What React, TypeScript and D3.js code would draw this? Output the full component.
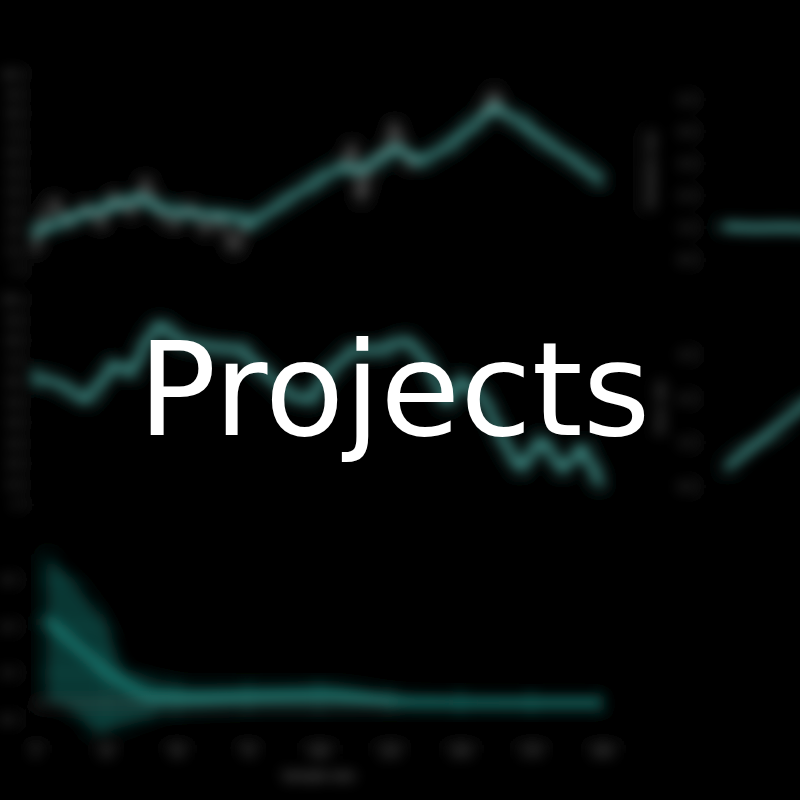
import { useEffect, useRef } from 'react';
import * as d3 from 'd3';

const W = 800;
const H = 800;

// shared x axis for the three left panels
const stepLabels = [0, 25, 50, 75, 100, 125, 150, 175, 200];

// top-left: smoothed trend + raw samples (null = gap)
const trendX = [0, 9, 19, 28, 37, 46, 55, 64, 72, 76, 86, 97, 108, 115, 122, 127, 136, 146, 155, 162, 171, 182, 191, 199];
const trendY = [19.5, 24.6, 29.7, 33.3, 36.9, 30.8, 29.2, 28.2, 26.7, 23.6, 33.3, 43.6, 52.8, 51.3, 57.4, 62.6, 55.4, 64.1, 74.4, 83.6, 75.9, 64.1, 55.4, 46.2];
const rawX = [0, 4, 7, 12, 18, 23, 28, 34, 39, 44, 49, 55, 60, 65, 70, 74, 90, 108, 112, 115, 119, 124, 127, 132, 136, 143, 150, 157, 162, 166];
const rawY = [10.3, 28.2, 35.9, 23.1, 33.3, 23.1, 38.5, 28.2, 46.2, 28.2, 23.1, 33.3, 19.5, 28.2, 10.3, 23.1, null, 52.8, 64.1, 35.9, 56.4, 61.5, 74.4, 53.8, 56.4, 61.5, 69.2, 77.9, 91.3, 77.9];

// middle-left: noisy series
const noiseX = [0, 8, 18, 28, 34, 40, 44, 51, 61, 73, 81, 90, 97, 104, 112, 122, 131, 138, 145, 150, 158, 166, 171, 179, 186, 193, 199];
const noiseY = [62.4, 59.5, 51.2, 68.3, 64.4, 81.5, 87.8, 80.5, 77.1, 75.6, 64.9, 53.7, 51.2, 64.9, 75.6, 75.6, 80.5, 70.7, 49.8, 61.0, 52.7, 29.3, 18.0, 31.7, 17.1, 27.8, 11.2];

// bottom: convergence with band
const convX = [4, 15, 22, 24, 32, 38, 41, 44, 58, 80, 103, 132, 164, 199];
const convMean = [2.13, 1.55, 1.2, 1.06, 0.74, 0.55, 0.48, 0.5, 0.48, 0.53, 0.57, 0.38, 0.36, 0.36];
const convHi = [3.56, 2.84, 2.3, 2.13, 1.06, 0.9, 0.85, 0.8, 0.68, 0.68, 0.7, 0.5, 0.46, 0.46];
const convLo = [0.42, 0.1, -0.29, -0.25, -0.12, -0.01, 0.05, 0.15, 0.21, 0.25, 0.25, 0.26, 0.26, 0.26];
const convRef = 0.35;
const convTicks = [0, 1, 2, 3];

// right-hand panels (mostly off the page)
const sideAX = [0, 1, 2, 3, 4, 5];
const sideAY = [1.05, 1.0, 1.02, 0.98, 1.0, 1.01];
const sideATicks = [0, 1, 2, 3, 4, 5];
const sideBX = [0, 1, 2, 3, 4];
const sideBY = [0.45, 0.9, 1.36, 1.81, 2.2];
const sideBTicks = [0, 1, 2, 3];

const TEAL = '#5cc9c0';
const LABEL = '#a0a0a0';
const GRID = '#151515';
const FONT = 'DejaVu Sans, sans-serif';

type Pt = { x: number; y: number | null };
const zip = (xs: number[], ys: (number | null)[]): Pt[] => xs.map((x, i) => ({ x, y: ys[i] }));

export default function App() {
  const svgRef = useRef<SVGSVGElement>(null);

  useEffect(() => {
    if (!svgRef.current) return;
    const svg = d3.select(svgRef.current);
    svg.selectAll('*').remove();

    svg.append('rect').attr('width', W).attr('height', H).attr('fill', '#000');

    svg.append('defs')
      .append('filter')
      .attr('id', 'soft')
      .attr('filterUnits', 'userSpaceOnUse')
      .attr('x', -50).attr('y', -50)
      .attr('width', W + 100).attr('height', H + 100)
      .append('feGaussianBlur')
      .attr('stdDeviation', 7);

    const g = svg.append('g').attr('filter', 'url(#soft)');

    const xLeft = d3.scaleLinear().domain([0, 200]).range([35, 602]);

    const frame = (x0: number, x1: number, y0: number, y1: number) => {
      g.append('rect')
        .attr('x', x0).attr('y', y0)
        .attr('width', x1 - x0).attr('height', y1 - y0)
        .attr('fill', 'none')
        .attr('stroke', '#191919')
        .attr('stroke-width', 1.5);
    };

    const vGrid = (xs: number[], y0: number, y1: number) => {
      g.selectAll(null).data(xs).enter().append('line')
        .attr('x1', d => d).attr('x2', d => d)
        .attr('y1', y0).attr('y2', y1)
        .attr('stroke', GRID).attr('stroke-width', 1.5);
    };

    const hGrid = (ys: number[], x0: number, x1: number) => {
      g.selectAll(null).data(ys).enter().append('line')
        .attr('x1', x0).attr('x2', x1)
        .attr('y1', d => d).attr('y2', d => d)
        .attr('stroke', GRID).attr('stroke-width', 1.5);
    };

    const yLabels = (scale: d3.ScaleLinear<number, number>, ticks: number[], x: number) => {
      const ax = g.append('g')
        .attr('transform', `translate(${x},0)`)
        .call(d3.axisLeft(scale).tickValues(ticks).tickSize(0).tickPadding(0));
      ax.select('.domain').remove();
      ax.selectAll('text')
        .style('font-family', FONT)
        .style('font-size', '9px')
        .style('fill', LABEL);
    };

    const vTitle = (text: string, x: number, y: number) => {
      g.append('text')
        .attr('transform', `translate(${x},${y}) rotate(-90)`)
        .attr('text-anchor', 'middle')
        .attr('dy', '0.35em')
        .style('font-family', FONT)
        .style('font-size', '11px')
        .style('fill', LABEL)
        .text(text);
    };

    const drawLine = (
      data: Pt[],
      x: d3.ScaleLinear<number, number>,
      y: d3.ScaleLinear<number, number>,
      color: string,
      width: number,
    ) => {
      const line = d3.line<Pt>()
        .defined(d => d.y !== null)
        .x(d => x(d.x))
        .y(d => y(d.y as number));
      g.append('path')
        .datum(data)
        .attr('fill', 'none')
        .attr('stroke', color)
        .attr('stroke-width', width)
        .attr('stroke-linejoin', 'round')
        .attr('stroke-linecap', 'round')
        .attr('d', line);
    };

    // Top-left panel
    const y1 = d3.scaleLinear().domain([0, 100]).range([270, 75]);
    frame(30, 630, 68, 275);
    vGrid(stepLabels.map(d => xLeft(d)), 68, 275);
    hGrid(y1.ticks(8).map(d => y1(d)), 30, 630);
    yLabels(y1, y1.ticks(8), 19);
    drawLine(zip(rawX, rawY), xLeft, y1, '#8c8c8c', 3);
    drawLine(zip(trendX, trendY), xLeft, y1, TEAL, 6);

    // Middle-left panel
    const y3 = d3.scaleLinear().domain([0, 100]).range([505, 300]);
    frame(30, 630, 298, 507);
    vGrid(stepLabels.map(d => xLeft(d)), 298, 507);
    hGrid(y3.ticks(8).map(d => y3(d)), 30, 630);
    yLabels(y3, y3.ticks(8), 19);
    drawLine(zip(noiseX, noiseY), xLeft, y3, TEAL, 6);

    // Bottom panel
    const y5 = d3.scaleLinear().domain([-0.5, 3.75]).range([743, 544.3]);
    frame(30, 630, 540, 742);
    vGrid(stepLabels.map(d => xLeft(d)), 540, 742);
    hGrid(convTicks.map(d => y5(d)), 30, 630);
    yLabels(y5, convTicks, 15);

    const band = d3.area<number>()
      .x((_, i) => xLeft(convX[i]))
      .y0((_, i) => y5(convLo[i]))
      .y1((_, i) => y5(convHi[i]))
      .curve(d3.curveMonotoneX);
    g.append('path')
      .datum(convX)
      .attr('fill', '#1fb5a9')
      .attr('fill-opacity', 0.3)
      .attr('d', band);

    g.append('line')
      .attr('x1', xLeft(0)).attr('x2', xLeft(200))
      .attr('y1', y5(convRef)).attr('y2', y5(convRef))
      .attr('stroke', '#5a5a5a')
      .attr('stroke-width', 2);

    drawLine(zip(convX, convMean), xLeft, y5, '#249c92', 6);

    const xAxis = g.append('g')
      .attr('transform', 'translate(0,742)')
      .call(d3.axisBottom(xLeft).tickValues(stepLabels).tickSize(0).tickPadding(6));
    xAxis.select('.domain').remove();
    xAxis.selectAll('text')
      .style('font-family', FONT)
      .style('font-size', '11px')
      .style('fill', LABEL);

    g.append('text')
      .attr('x', xLeft(100))
      .attr('y', 780)
      .attr('text-anchor', 'middle')
      .style('font-family', FONT)
      .style('font-size', '12px')
      .style('fill', LABEL)
      .text('Sample size');

    // Top-right panel
    const xA = d3.scaleLinear().domain([0, 10]).range([725, 1025]);
    const yA = d3.scaleLinear().domain([0, 5]).range([260, 100]);
    frame(703, 830, 70, 275);
    hGrid(sideATicks.map(d => yA(d)), 703, 830);
    yLabels(yA, sideATicks, 693);
    vTitle('Validation loss', 650, 170);
    drawLine(zip(sideAX, sideAY), xA, yA, TEAL, 6);

    // Middle-right panel
    const xB = d3.scaleLinear().domain([0, 10]).range([727, 977]);
    const yB = d3.scaleLinear().domain([0, 4]).range([487, 310.2]);
    frame(703, 830, 303, 507);
    hGrid(sideBTicks.map(d => yB(d)), 703, 830);
    yLabels(yB, sideBTicks, 693);
    vTitle('Error rate', 660, 407);
    drawLine(zip(sideBX, sideBY), xB, yB, TEAL, 6);

    // Title over the blurred charts
    svg.append('text')
      .attr('x', 138)
      .attr('y', 435)
      .style('font-family', FONT)
      .style('font-size', '130px')
      .style('fill', '#ffffff')
      .text('Projects');
  }, []);

  return (
    <svg
      ref={svgRef}
      width={W}
      height={H}
      style={{ position: 'absolute', left: 0, top: 0, display: 'block' }}
    />
  );
}
